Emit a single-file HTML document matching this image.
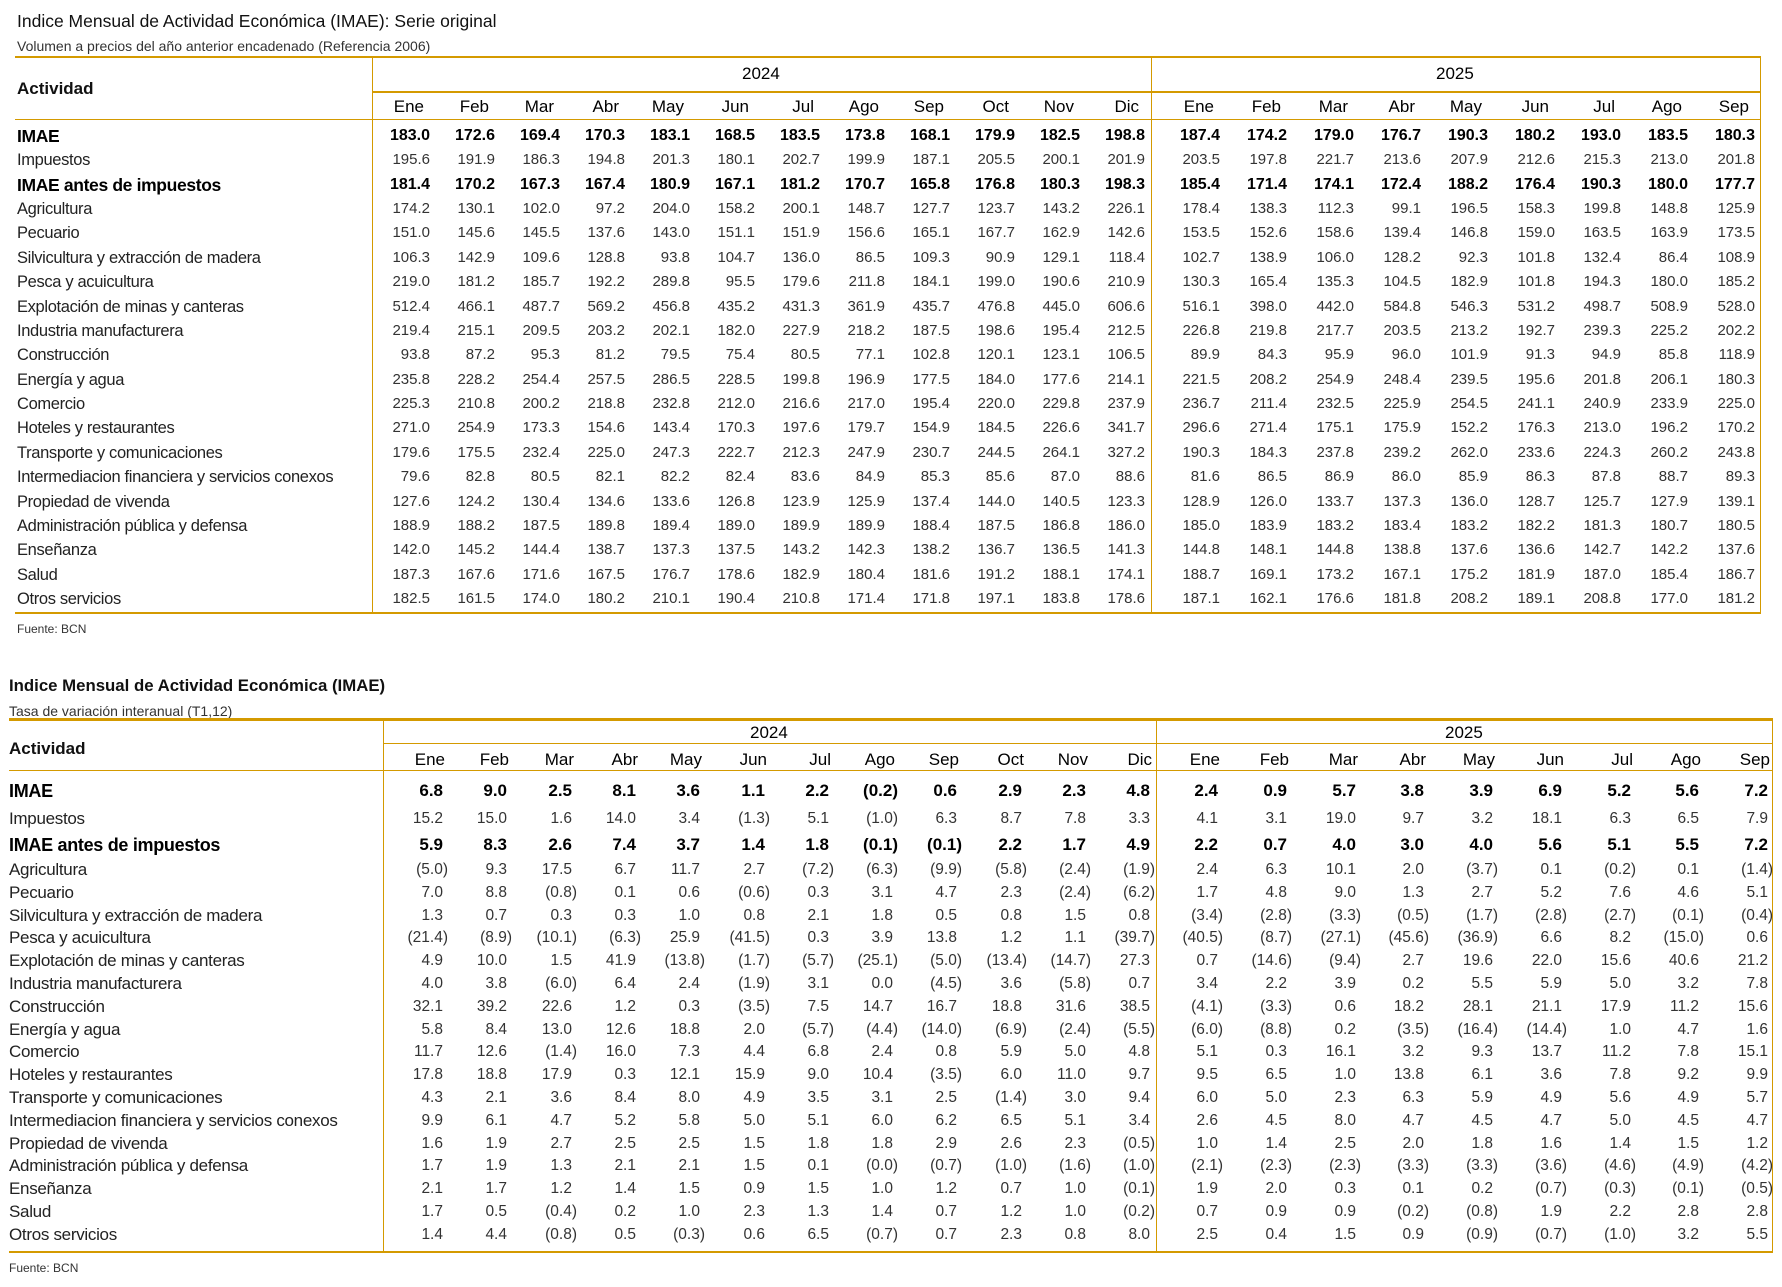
<!DOCTYPE html>
<html><head><meta charset="utf-8">
<style>
body{margin:0;width:1782px;height:1287px;background:#fff;position:relative;overflow:hidden;font-family:"Liberation Sans",sans-serif;color:#222}
.a{position:absolute;white-space:nowrap}
.l{position:absolute;background:#d49a00}
.r{position:absolute;left:0;width:1782px;height:20px;line-height:20px}
.r span{position:absolute;top:0}
.r span:first-child{position:absolute}
.t1 .r span:first-child{left:17px;font-size:16.5px;letter-spacing:-0.35px;font-weight:normal;color:#222}
.t2 .r span:first-child{left:9px;font-size:17px;letter-spacing:-0.3px;font-weight:normal;color:#222}
.t1 .r{font-size:15px;color:#333}
.t2 .r{font-size:15.5px;color:#333}
.r.b{font-weight:bold;color:#000}
.t1 .r.b{font-size:16px}
.t2 .r.b{font-size:17px}
.t1 .r.b span:first-child{font-weight:bold;font-size:17.5px;color:#000}
.t2 .r.b span:first-child{font-weight:bold;font-size:18px;color:#000}
.r.h{color:#000;font-size:17px!important}
.t1 .r.h span{transform:translateX(-6px)}
.t2 .r.h span{transform:translateX(2px)}
.n{transform:translateX(5px)}
.t1 span:nth-child(2){right:1352px}.t1 span:nth-child(3){right:1287px}.t1 span:nth-child(4){right:1222px}.t1 span:nth-child(5){right:1157px}.t1 span:nth-child(6){right:1092px}.t1 span:nth-child(7){right:1027px}.t1 span:nth-child(8){right:962px}.t1 span:nth-child(9){right:897px}.t1 span:nth-child(10){right:832px}.t1 span:nth-child(11){right:767px}.t1 span:nth-child(12){right:702px}.t1 span:nth-child(13){right:637px}.t1 span:nth-child(14){right:562px}.t1 span:nth-child(15){right:495px}.t1 span:nth-child(16){right:428px}.t1 span:nth-child(17){right:361px}.t1 span:nth-child(18){right:294px}.t1 span:nth-child(19){right:227px}.t1 span:nth-child(20){right:161px}.t1 span:nth-child(21){right:94px}.t1 span:nth-child(22){right:27px}
.t2 span:nth-child(2){right:1339px}.t2 span:nth-child(3){right:1275px}.t2 span:nth-child(4){right:1210px}.t2 span:nth-child(5){right:1146px}.t2 span:nth-child(6){right:1082px}.t2 span:nth-child(7){right:1017px}.t2 span:nth-child(8){right:953px}.t2 span:nth-child(9){right:889px}.t2 span:nth-child(10){right:825px}.t2 span:nth-child(11){right:760px}.t2 span:nth-child(12){right:696px}.t2 span:nth-child(13){right:632px}.t2 span:nth-child(14){right:564px}.t2 span:nth-child(15){right:495px}.t2 span:nth-child(16){right:426px}.t2 span:nth-child(17){right:358px}.t2 span:nth-child(18){right:289px}.t2 span:nth-child(19){right:220px}.t2 span:nth-child(20){right:151px}.t2 span:nth-child(21){right:83px}.t2 span:nth-child(22){right:14px}
.r.h span.n{transform:none}
</style></head><body>
<!-- Table 1 -->
<div class="a" style="left:17px;top:11px;font-size:17.5px;color:#111">Indice Mensual de Actividad Económica (IMAE): Serie original</div>
<div class="a" style="left:17px;top:38px;font-size:14px;color:#333">Volumen a precios del año anterior encadenado (Referencia 2006)</div>
<div class="l" style="left:15px;top:56px;width:1746px;height:2px"></div>
<div class="l" style="left:372px;top:56px;width:1px;height:558px"></div>
<div class="l" style="left:1151px;top:56px;width:1px;height:558px"></div>
<div class="l" style="left:1760px;top:56px;width:1px;height:558px"></div>
<div class="l" style="left:372px;top:91px;width:1389px;height:2px"></div>
<div class="l" style="left:15px;top:119px;width:1746px;height:1px"></div>
<div class="l" style="left:15px;top:612px;width:1746px;height:2px"></div>
<div class="a" style="left:17px;top:79px;font-size:17px;font-weight:bold;color:#111">Actividad</div>
<div class="a" style="left:742px;top:64px;font-size:17px;color:#000">2024</div>
<div class="a" style="left:1436px;top:64px;font-size:17px;color:#000">2025</div>
<div class="a" style="left:17px;top:622px;font-size:12px;color:#333">Fuente: BCN</div>
<div class="t1">
<div class="r h" style="top:97px"><span></span><span>Ene</span><span>Feb</span><span>Mar</span><span>Abr</span><span>May</span><span>Jun</span><span>Jul</span><span>Ago</span><span>Sep</span><span>Oct</span><span>Nov</span><span>Dic</span><span>Ene</span><span>Feb</span><span>Mar</span><span>Abr</span><span>May</span><span>Jun</span><span>Jul</span><span>Ago</span><span>Sep</span></div>
<div class="r b" style="top:126px"><span>IMAE</span><span>183.0</span><span>172.6</span><span>169.4</span><span>170.3</span><span>183.1</span><span>168.5</span><span>183.5</span><span>173.8</span><span>168.1</span><span>179.9</span><span>182.5</span><span>198.8</span><span>187.4</span><span>174.2</span><span>179.0</span><span>176.7</span><span>190.3</span><span>180.2</span><span>193.0</span><span>183.5</span><span>180.3</span></div>
<div class="r" style="top:150px"><span>Impuestos</span><span>195.6</span><span>191.9</span><span>186.3</span><span>194.8</span><span>201.3</span><span>180.1</span><span>202.7</span><span>199.9</span><span>187.1</span><span>205.5</span><span>200.1</span><span>201.9</span><span>203.5</span><span>197.8</span><span>221.7</span><span>213.6</span><span>207.9</span><span>212.6</span><span>215.3</span><span>213.0</span><span>201.8</span></div>
<div class="r b" style="top:175px"><span>IMAE antes de impuestos</span><span>181.4</span><span>170.2</span><span>167.3</span><span>167.4</span><span>180.9</span><span>167.1</span><span>181.2</span><span>170.7</span><span>165.8</span><span>176.8</span><span>180.3</span><span>198.3</span><span>185.4</span><span>171.4</span><span>174.1</span><span>172.4</span><span>188.2</span><span>176.4</span><span>190.3</span><span>180.0</span><span>177.7</span></div>
<div class="r" style="top:199px"><span>Agricultura</span><span>174.2</span><span>130.1</span><span>102.0</span><span>97.2</span><span>204.0</span><span>158.2</span><span>200.1</span><span>148.7</span><span>127.7</span><span>123.7</span><span>143.2</span><span>226.1</span><span>178.4</span><span>138.3</span><span>112.3</span><span>99.1</span><span>196.5</span><span>158.3</span><span>199.8</span><span>148.8</span><span>125.9</span></div>
<div class="r" style="top:223px"><span>Pecuario</span><span>151.0</span><span>145.6</span><span>145.5</span><span>137.6</span><span>143.0</span><span>151.1</span><span>151.9</span><span>156.6</span><span>165.1</span><span>167.7</span><span>162.9</span><span>142.6</span><span>153.5</span><span>152.6</span><span>158.6</span><span>139.4</span><span>146.8</span><span>159.0</span><span>163.5</span><span>163.9</span><span>173.5</span></div>
<div class="r" style="top:248px"><span>Silvicultura y extracción de madera</span><span>106.3</span><span>142.9</span><span>109.6</span><span>128.8</span><span>93.8</span><span>104.7</span><span>136.0</span><span>86.5</span><span>109.3</span><span>90.9</span><span>129.1</span><span>118.4</span><span>102.7</span><span>138.9</span><span>106.0</span><span>128.2</span><span>92.3</span><span>101.8</span><span>132.4</span><span>86.4</span><span>108.9</span></div>
<div class="r" style="top:272px"><span>Pesca y acuicultura</span><span>219.0</span><span>181.2</span><span>185.7</span><span>192.2</span><span>289.8</span><span>95.5</span><span>179.6</span><span>211.8</span><span>184.1</span><span>199.0</span><span>190.6</span><span>210.9</span><span>130.3</span><span>165.4</span><span>135.3</span><span>104.5</span><span>182.9</span><span>101.8</span><span>194.3</span><span>180.0</span><span>185.2</span></div>
<div class="r" style="top:297px"><span>Explotación de minas y canteras</span><span>512.4</span><span>466.1</span><span>487.7</span><span>569.2</span><span>456.8</span><span>435.2</span><span>431.3</span><span>361.9</span><span>435.7</span><span>476.8</span><span>445.0</span><span>606.6</span><span>516.1</span><span>398.0</span><span>442.0</span><span>584.8</span><span>546.3</span><span>531.2</span><span>498.7</span><span>508.9</span><span>528.0</span></div>
<div class="r" style="top:321px"><span>Industria manufacturera</span><span>219.4</span><span>215.1</span><span>209.5</span><span>203.2</span><span>202.1</span><span>182.0</span><span>227.9</span><span>218.2</span><span>187.5</span><span>198.6</span><span>195.4</span><span>212.5</span><span>226.8</span><span>219.8</span><span>217.7</span><span>203.5</span><span>213.2</span><span>192.7</span><span>239.3</span><span>225.2</span><span>202.2</span></div>
<div class="r" style="top:345px"><span>Construcción</span><span>93.8</span><span>87.2</span><span>95.3</span><span>81.2</span><span>79.5</span><span>75.4</span><span>80.5</span><span>77.1</span><span>102.8</span><span>120.1</span><span>123.1</span><span>106.5</span><span>89.9</span><span>84.3</span><span>95.9</span><span>96.0</span><span>101.9</span><span>91.3</span><span>94.9</span><span>85.8</span><span>118.9</span></div>
<div class="r" style="top:370px"><span>Energía y agua</span><span>235.8</span><span>228.2</span><span>254.4</span><span>257.5</span><span>286.5</span><span>228.5</span><span>199.8</span><span>196.9</span><span>177.5</span><span>184.0</span><span>177.6</span><span>214.1</span><span>221.5</span><span>208.2</span><span>254.9</span><span>248.4</span><span>239.5</span><span>195.6</span><span>201.8</span><span>206.1</span><span>180.3</span></div>
<div class="r" style="top:394px"><span>Comercio</span><span>225.3</span><span>210.8</span><span>200.2</span><span>218.8</span><span>232.8</span><span>212.0</span><span>216.6</span><span>217.0</span><span>195.4</span><span>220.0</span><span>229.8</span><span>237.9</span><span>236.7</span><span>211.4</span><span>232.5</span><span>225.9</span><span>254.5</span><span>241.1</span><span>240.9</span><span>233.9</span><span>225.0</span></div>
<div class="r" style="top:418px"><span>Hoteles y restaurantes</span><span>271.0</span><span>254.9</span><span>173.3</span><span>154.6</span><span>143.4</span><span>170.3</span><span>197.6</span><span>179.7</span><span>154.9</span><span>184.5</span><span>226.6</span><span>341.7</span><span>296.6</span><span>271.4</span><span>175.1</span><span>175.9</span><span>152.2</span><span>176.3</span><span>213.0</span><span>196.2</span><span>170.2</span></div>
<div class="r" style="top:443px"><span>Transporte y comunicaciones</span><span>179.6</span><span>175.5</span><span>232.4</span><span>225.0</span><span>247.3</span><span>222.7</span><span>212.3</span><span>247.9</span><span>230.7</span><span>244.5</span><span>264.1</span><span>327.2</span><span>190.3</span><span>184.3</span><span>237.8</span><span>239.2</span><span>262.0</span><span>233.6</span><span>224.3</span><span>260.2</span><span>243.8</span></div>
<div class="r" style="top:467px"><span>Intermediacion financiera y servicios conexos</span><span>79.6</span><span>82.8</span><span>80.5</span><span>82.1</span><span>82.2</span><span>82.4</span><span>83.6</span><span>84.9</span><span>85.3</span><span>85.6</span><span>87.0</span><span>88.6</span><span>81.6</span><span>86.5</span><span>86.9</span><span>86.0</span><span>85.9</span><span>86.3</span><span>87.8</span><span>88.7</span><span>89.3</span></div>
<div class="r" style="top:492px"><span>Propiedad de vivenda</span><span>127.6</span><span>124.2</span><span>130.4</span><span>134.6</span><span>133.6</span><span>126.8</span><span>123.9</span><span>125.9</span><span>137.4</span><span>144.0</span><span>140.5</span><span>123.3</span><span>128.9</span><span>126.0</span><span>133.7</span><span>137.3</span><span>136.0</span><span>128.7</span><span>125.7</span><span>127.9</span><span>139.1</span></div>
<div class="r" style="top:516px"><span>Administración pública y defensa</span><span>188.9</span><span>188.2</span><span>187.5</span><span>189.8</span><span>189.4</span><span>189.0</span><span>189.9</span><span>189.9</span><span>188.4</span><span>187.5</span><span>186.8</span><span>186.0</span><span>185.0</span><span>183.9</span><span>183.2</span><span>183.4</span><span>183.2</span><span>182.2</span><span>181.3</span><span>180.7</span><span>180.5</span></div>
<div class="r" style="top:540px"><span>Enseñanza</span><span>142.0</span><span>145.2</span><span>144.4</span><span>138.7</span><span>137.3</span><span>137.5</span><span>143.2</span><span>142.3</span><span>138.2</span><span>136.7</span><span>136.5</span><span>141.3</span><span>144.8</span><span>148.1</span><span>144.8</span><span>138.8</span><span>137.6</span><span>136.6</span><span>142.7</span><span>142.2</span><span>137.6</span></div>
<div class="r" style="top:565px"><span>Salud</span><span>187.3</span><span>167.6</span><span>171.6</span><span>167.5</span><span>176.7</span><span>178.6</span><span>182.9</span><span>180.4</span><span>181.6</span><span>191.2</span><span>188.1</span><span>174.1</span><span>188.7</span><span>169.1</span><span>173.2</span><span>167.1</span><span>175.2</span><span>181.9</span><span>187.0</span><span>185.4</span><span>186.7</span></div>
<div class="r" style="top:589px"><span>Otros servicios</span><span>182.5</span><span>161.5</span><span>174.0</span><span>180.2</span><span>210.1</span><span>190.4</span><span>210.8</span><span>171.4</span><span>171.8</span><span>197.1</span><span>183.8</span><span>178.6</span><span>187.1</span><span>162.1</span><span>176.6</span><span>181.8</span><span>208.2</span><span>189.1</span><span>208.8</span><span>177.0</span><span>181.2</span></div>
</div>

<!-- Table 2 -->
<div class="a" style="left:9px;top:676px;font-size:16.8px;font-weight:bold;color:#111">Indice Mensual de Actividad Económica (IMAE)</div>
<div class="a" style="left:9px;top:703px;font-size:14px;color:#333">Tasa de variación interanual (T1,12)</div>
<div class="l" style="left:9px;top:718px;width:1764px;height:3px"></div>
<div class="l" style="left:383px;top:718px;width:1px;height:535px"></div>
<div class="l" style="left:1156px;top:718px;width:1px;height:535px"></div>
<div class="l" style="left:1772px;top:718px;width:1px;height:535px"></div>
<div class="l" style="left:383px;top:743px;width:1390px;height:1px"></div>
<div class="l" style="left:9px;top:770px;width:1764px;height:1px"></div>
<div class="l" style="left:9px;top:1251px;width:1764px;height:2px"></div>
<div class="a" style="left:9px;top:739px;font-size:17px;font-weight:bold;color:#111">Actividad</div>
<div class="a" style="left:750px;top:723px;font-size:17px;color:#000">2024</div>
<div class="a" style="left:1445px;top:723px;font-size:17px;color:#000">2025</div>
<div class="a" style="left:9px;top:1261px;font-size:12px;color:#333">Fuente: BCN</div>
<div class="t2">
<div class="r h" style="top:750px"><span></span><span>Ene</span><span>Feb</span><span>Mar</span><span>Abr</span><span>May</span><span>Jun</span><span>Jul</span><span>Ago</span><span>Sep</span><span>Oct</span><span>Nov</span><span>Dic</span><span>Ene</span><span>Feb</span><span>Mar</span><span>Abr</span><span>May</span><span>Jun</span><span>Jul</span><span>Ago</span><span>Sep</span></div>
<div class="r b" style="top:781px"><span>IMAE</span><span>6.8</span><span>9.0</span><span>2.5</span><span>8.1</span><span>3.6</span><span>1.1</span><span>2.2</span><span class="n">(0.2)</span><span>0.6</span><span>2.9</span><span>2.3</span><span>4.8</span><span>2.4</span><span>0.9</span><span>5.7</span><span>3.8</span><span>3.9</span><span>6.9</span><span>5.2</span><span>5.6</span><span>7.2</span></div>
<div class="r" style="top:809px"><span>Impuestos</span><span>15.2</span><span>15.0</span><span>1.6</span><span>14.0</span><span>3.4</span><span class="n">(1.3)</span><span>5.1</span><span class="n">(1.0)</span><span>6.3</span><span>8.7</span><span>7.8</span><span>3.3</span><span>4.1</span><span>3.1</span><span>19.0</span><span>9.7</span><span>3.2</span><span>18.1</span><span>6.3</span><span>6.5</span><span>7.9</span></div>
<div class="r b" style="top:835px"><span>IMAE antes de impuestos</span><span>5.9</span><span>8.3</span><span>2.6</span><span>7.4</span><span>3.7</span><span>1.4</span><span>1.8</span><span class="n">(0.1)</span><span class="n">(0.1)</span><span>2.2</span><span>1.7</span><span>4.9</span><span>2.2</span><span>0.7</span><span>4.0</span><span>3.0</span><span>4.0</span><span>5.6</span><span>5.1</span><span>5.5</span><span>7.2</span></div>
<div class="r" style="top:860px"><span>Agricultura</span><span class="n">(5.0)</span><span>9.3</span><span>17.5</span><span>6.7</span><span>11.7</span><span>2.7</span><span class="n">(7.2)</span><span class="n">(6.3)</span><span class="n">(9.9)</span><span class="n">(5.8)</span><span class="n">(2.4)</span><span class="n">(1.9)</span><span>2.4</span><span>6.3</span><span>10.1</span><span>2.0</span><span class="n">(3.7)</span><span>0.1</span><span class="n">(0.2)</span><span>0.1</span><span class="n">(1.4)</span></div>
<div class="r" style="top:883px"><span>Pecuario</span><span>7.0</span><span>8.8</span><span class="n">(0.8)</span><span>0.1</span><span>0.6</span><span class="n">(0.6)</span><span>0.3</span><span>3.1</span><span>4.7</span><span>2.3</span><span class="n">(2.4)</span><span class="n">(6.2)</span><span>1.7</span><span>4.8</span><span>9.0</span><span>1.3</span><span>2.7</span><span>5.2</span><span>7.6</span><span>4.6</span><span>5.1</span></div>
<div class="r" style="top:906px"><span>Silvicultura y extracción de madera</span><span>1.3</span><span>0.7</span><span>0.3</span><span>0.3</span><span>1.0</span><span>0.8</span><span>2.1</span><span>1.8</span><span>0.5</span><span>0.8</span><span>1.5</span><span>0.8</span><span class="n">(3.4)</span><span class="n">(2.8)</span><span class="n">(3.3)</span><span class="n">(0.5)</span><span class="n">(1.7)</span><span class="n">(2.8)</span><span class="n">(2.7)</span><span class="n">(0.1)</span><span class="n">(0.4)</span></div>
<div class="r" style="top:928px"><span>Pesca y acuicultura</span><span class="n">(21.4)</span><span class="n">(8.9)</span><span class="n">(10.1)</span><span class="n">(6.3)</span><span>25.9</span><span class="n">(41.5)</span><span>0.3</span><span>3.9</span><span>13.8</span><span>1.2</span><span>1.1</span><span class="n">(39.7)</span><span class="n">(40.5)</span><span class="n">(8.7)</span><span class="n">(27.1)</span><span class="n">(45.6)</span><span class="n">(36.9)</span><span>6.6</span><span>8.2</span><span class="n">(15.0)</span><span>0.6</span></div>
<div class="r" style="top:951px"><span>Explotación de minas y canteras</span><span>4.9</span><span>10.0</span><span>1.5</span><span>41.9</span><span class="n">(13.8)</span><span class="n">(1.7)</span><span class="n">(5.7)</span><span class="n">(25.1)</span><span class="n">(5.0)</span><span class="n">(13.4)</span><span class="n">(14.7)</span><span>27.3</span><span>0.7</span><span class="n">(14.6)</span><span class="n">(9.4)</span><span>2.7</span><span>19.6</span><span>22.0</span><span>15.6</span><span>40.6</span><span>21.2</span></div>
<div class="r" style="top:974px"><span>Industria manufacturera</span><span>4.0</span><span>3.8</span><span class="n">(6.0)</span><span>6.4</span><span>2.4</span><span class="n">(1.9)</span><span>3.1</span><span>0.0</span><span class="n">(4.5)</span><span>3.6</span><span class="n">(5.8)</span><span>0.7</span><span>3.4</span><span>2.2</span><span>3.9</span><span>0.2</span><span>5.5</span><span>5.9</span><span>5.0</span><span>3.2</span><span>7.8</span></div>
<div class="r" style="top:997px"><span>Construcción</span><span>32.1</span><span>39.2</span><span>22.6</span><span>1.2</span><span>0.3</span><span class="n">(3.5)</span><span>7.5</span><span>14.7</span><span>16.7</span><span>18.8</span><span>31.6</span><span>38.5</span><span class="n">(4.1)</span><span class="n">(3.3)</span><span>0.6</span><span>18.2</span><span>28.1</span><span>21.1</span><span>17.9</span><span>11.2</span><span>15.6</span></div>
<div class="r" style="top:1020px"><span>Energía y agua</span><span>5.8</span><span>8.4</span><span>13.0</span><span>12.6</span><span>18.8</span><span>2.0</span><span class="n">(5.7)</span><span class="n">(4.4)</span><span class="n">(14.0)</span><span class="n">(6.9)</span><span class="n">(2.4)</span><span class="n">(5.5)</span><span class="n">(6.0)</span><span class="n">(8.8)</span><span>0.2</span><span class="n">(3.5)</span><span class="n">(16.4)</span><span class="n">(14.4)</span><span>1.0</span><span>4.7</span><span>1.6</span></div>
<div class="r" style="top:1042px"><span>Comercio</span><span>11.7</span><span>12.6</span><span class="n">(1.4)</span><span>16.0</span><span>7.3</span><span>4.4</span><span>6.8</span><span>2.4</span><span>0.8</span><span>5.9</span><span>5.0</span><span>4.8</span><span>5.1</span><span>0.3</span><span>16.1</span><span>3.2</span><span>9.3</span><span>13.7</span><span>11.2</span><span>7.8</span><span>15.1</span></div>
<div class="r" style="top:1065px"><span>Hoteles y restaurantes</span><span>17.8</span><span>18.8</span><span>17.9</span><span>0.3</span><span>12.1</span><span>15.9</span><span>9.0</span><span>10.4</span><span class="n">(3.5)</span><span>6.0</span><span>11.0</span><span>9.7</span><span>9.5</span><span>6.5</span><span>1.0</span><span>13.8</span><span>6.1</span><span>3.6</span><span>7.8</span><span>9.2</span><span>9.9</span></div>
<div class="r" style="top:1088px"><span>Transporte y comunicaciones</span><span>4.3</span><span>2.1</span><span>3.6</span><span>8.4</span><span>8.0</span><span>4.9</span><span>3.5</span><span>3.1</span><span>2.5</span><span class="n">(1.4)</span><span>3.0</span><span>9.4</span><span>6.0</span><span>5.0</span><span>2.3</span><span>6.3</span><span>5.9</span><span>4.9</span><span>5.6</span><span>4.9</span><span>5.7</span></div>
<div class="r" style="top:1111px"><span>Intermediacion financiera y servicios conexos</span><span>9.9</span><span>6.1</span><span>4.7</span><span>5.2</span><span>5.8</span><span>5.0</span><span>5.1</span><span>6.0</span><span>6.2</span><span>6.5</span><span>5.1</span><span>3.4</span><span>2.6</span><span>4.5</span><span>8.0</span><span>4.7</span><span>4.5</span><span>4.7</span><span>5.0</span><span>4.5</span><span>4.7</span></div>
<div class="r" style="top:1134px"><span>Propiedad de vivenda</span><span>1.6</span><span>1.9</span><span>2.7</span><span>2.5</span><span>2.5</span><span>1.5</span><span>1.8</span><span>1.8</span><span>2.9</span><span>2.6</span><span>2.3</span><span class="n">(0.5)</span><span>1.0</span><span>1.4</span><span>2.5</span><span>2.0</span><span>1.8</span><span>1.6</span><span>1.4</span><span>1.5</span><span>1.2</span></div>
<div class="r" style="top:1156px"><span>Administración pública y defensa</span><span>1.7</span><span>1.9</span><span>1.3</span><span>2.1</span><span>2.1</span><span>1.5</span><span>0.1</span><span class="n">(0.0)</span><span class="n">(0.7)</span><span class="n">(1.0)</span><span class="n">(1.6)</span><span class="n">(1.0)</span><span class="n">(2.1)</span><span class="n">(2.3)</span><span class="n">(2.3)</span><span class="n">(3.3)</span><span class="n">(3.3)</span><span class="n">(3.6)</span><span class="n">(4.6)</span><span class="n">(4.9)</span><span class="n">(4.2)</span></div>
<div class="r" style="top:1179px"><span>Enseñanza</span><span>2.1</span><span>1.7</span><span>1.2</span><span>1.4</span><span>1.5</span><span>0.9</span><span>1.5</span><span>1.0</span><span>1.2</span><span>0.7</span><span>1.0</span><span class="n">(0.1)</span><span>1.9</span><span>2.0</span><span>0.3</span><span>0.1</span><span>0.2</span><span class="n">(0.7)</span><span class="n">(0.3)</span><span class="n">(0.1)</span><span class="n">(0.5)</span></div>
<div class="r" style="top:1202px"><span>Salud</span><span>1.7</span><span>0.5</span><span class="n">(0.4)</span><span>0.2</span><span>1.0</span><span>2.3</span><span>1.3</span><span>1.4</span><span>0.7</span><span>1.2</span><span>1.0</span><span class="n">(0.2)</span><span>0.7</span><span>0.9</span><span>0.9</span><span class="n">(0.2)</span><span class="n">(0.8)</span><span>1.9</span><span>2.2</span><span>2.8</span><span>2.8</span></div>
<div class="r" style="top:1225px"><span>Otros servicios</span><span>1.4</span><span>4.4</span><span class="n">(0.8)</span><span>0.5</span><span class="n">(0.3)</span><span>0.6</span><span>6.5</span><span class="n">(0.7)</span><span>0.7</span><span>2.3</span><span>0.8</span><span>8.0</span><span>2.5</span><span>0.4</span><span>1.5</span><span>0.9</span><span class="n">(0.9)</span><span class="n">(0.7)</span><span class="n">(1.0)</span><span>3.2</span><span>5.5</span></div>
</div>
</body></html>
